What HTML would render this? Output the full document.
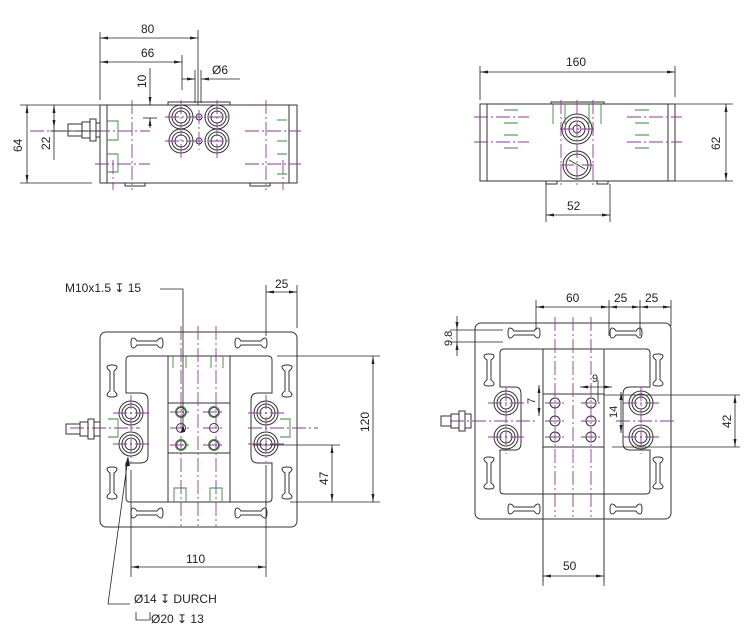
<!DOCTYPE html>
<html><head><meta charset="utf-8"><style>
html,body{margin:0;padding:0;background:#fff;}
svg{display:block;}
text{font-family:"Liberation Sans","DejaVu Sans",sans-serif;font-size:12px;fill:#222;}
.l{stroke:#333;stroke-width:1;fill:none;}
.d{stroke:#222;stroke-width:0.8;fill:none;}
.p{stroke:#8a3a9a;stroke-width:0.9;fill:none;stroke-dasharray:14 3 2 3;}
.g{stroke:#3a8a3a;stroke-width:0.9;fill:none;}
.a{fill:#222;}
</style></head><body>
<svg width="756" height="638" viewBox="0 0 756 638" xmlns="http://www.w3.org/2000/svg">
<defs>
<marker id="ar" markerWidth="8" markerHeight="6" refX="8" refY="3" orient="auto-start-reverse" markerUnits="userSpaceOnUse"><path d="M0,1.5 L8,3 L0,4.5z" fill="#222"/></marker>
<g id="slotH"><path class="l" d="M-14,-5 Q-16,-5 -16,0 Q-16,5 -14,5 Q-12,5 -10,2 L10,2 Q12,5 14,5 Q16,5 16,0 Q16,-5 14,-5 Q12,-5 10,-2 L-10,-2 Q-12,-5 -14,-5z"/></g>
<g id="slotV"><path class="l" d="M-5,-14 Q-5,-16 0,-16 Q5,-16 5,-14 Q5,-12 2,-10 L2,10 Q5,12 5,14 Q5,16 0,16 Q-5,16 -5,14 Q-5,12 -2,10 L-2,-10 Q-5,-12 -5,-14z"/></g>
<g id="big"><circle class="l" r="12"/><circle class="l" r="9"/><circle class="l" r="6"/></g>
<g id="sm"><circle class="l" r="4.5"/><circle class="g" r="5.5"/></g>
</defs>

<!-- ===== VIEW 1 (top-left) ===== -->
<rect class="l" x="100" y="105" width="197" height="78"/>
<line class="l" x1="107" y1="105" x2="107" y2="183"/>
<line class="l" x1="289" y1="105" x2="289" y2="183"/>
<rect class="l" x="168" y="102" width="62" height="3"/>
<rect class="l" x="125" y="183" width="20" height="3"/><rect class="l" x="250" y="183" width="20" height="3"/>
<g transform="translate(181,117)"><use href="#big"/></g>
<g transform="translate(217,117)"><use href="#big"/></g>
<g transform="translate(181,141)"><use href="#big"/></g>
<g transform="translate(217,141)"><use href="#big"/></g>
<circle class="l" cx="199" cy="117" r="3"/><circle class="l" cx="199" cy="141" r="3"/>
<path class="g" d="M107,121 h11 v19 h-11 M107,154 h11 v18 h-11 M277,120 h10 M277,141 h10 M277,154 h10 M277,174 h10"/>
<path class="p" d="M165,117 h66 M165,141 h66 M181,100 v60 M217,100 v60 M199,110 v40 M30,131 h120 M245,131 h56 M95,164 h55 M245,164 h56 M132,100 v90 M266,100 v90 M113,160 v30 M283,160 v30"/>
<!-- connector -->
<path class="l" d="M68,124 h14 v12 h-14z M82,122 h8 v16 h-8z M90,119 h6 v22 h-6z M96,123 h4 v14 h-4z"/>
<!-- dims -->
<path class="d" d="M100,100 V32 M198,105 V30 M182,90 V55 M195,103 V70 M201,103 V70 M20,105 H100 M20,183 H92"/>
<line class="d" x1="100" y1="38" x2="198" y2="38" marker-start="url(#ar)" marker-end="url(#ar)"/>
<line class="d" x1="100" y1="62" x2="182" y2="62" marker-start="url(#ar)" marker-end="url(#ar)"/>
<line class="d" x1="182" y1="79" x2="195" y2="79" marker-end="url(#ar)"/>
<line class="d" x1="240" y1="79" x2="201" y2="79" marker-end="url(#ar)"/>
<line class="d" x1="150" y1="68" x2="150" y2="105" marker-end="url(#ar)"/>
<line class="d" x1="150" y1="128" x2="150" y2="118" marker-end="url(#ar)"/>
<line class="d" x1="143" y1="118" x2="157" y2="118"/>
<line class="d" x1="27" y1="105" x2="27" y2="183" marker-start="url(#ar)" marker-end="url(#ar)"/>
<line class="d" x1="54" y1="105" x2="54" y2="128" marker-start="url(#ar)" marker-end="url(#ar)"/>
<line class="d" x1="54" y1="128" x2="54" y2="160"/>
<line class="d" x1="50" y1="131" x2="100" y2="131"/>
<text x="141" y="33">80</text>
<text x="141" y="57">66</text>
<text x="212" y="74">Ø6</text>
<text transform="translate(146,88) rotate(-90)">10</text>
<text transform="translate(22,152) rotate(-90)">64</text>
<text transform="translate(50,150) rotate(-90)">22</text>

<!-- ===== VIEW 2 (top-right) ===== -->
<rect class="l" x="480" y="104" width="195" height="77"/>
<line class="l" x1="487" y1="104" x2="487" y2="181"/>
<line class="l" x1="668" y1="104" x2="668" y2="181"/>
<rect class="l" x="551" y="102" width="53" height="2"/>
<rect class="l" x="546" y="181" width="11" height="3"/><rect class="l" x="597" y="181" width="11" height="3"/>
<circle class="l" cx="577" cy="129" r="15"/><circle class="l" cx="577" cy="129" r="12"/><circle class="l" cx="577" cy="129" r="8"/><circle class="l" cx="577" cy="129" r="4"/>
<circle class="l" cx="577" cy="165" r="14"/><circle class="l" cx="577" cy="165" r="11"/>
<line class="l" x1="569" y1="160" x2="585" y2="169"/>
<path class="g" d="M504,110 h14 M504,123 h14 M504,135 h14 M504,148 h14 M635,110 h14 M635,123 h14 M635,135 h14 M635,148 h14 M553,104 v20 M565,104 v20 M589,104 v20 M601,104 v20"/>
<path class="p" d="M474,117 h55 M474,142 h55 M627,117 h55 M627,142 h55 M560,165 h34 M560,129 h34 M561,100 v86 M577,100 v86 M593,100 v86"/>
<path class="d" d="M480,100 V66 M675,97 V66 M675,104 H733 M675,181 H733 M546,184 V222 M610,184 V222"/>
<line class="d" x1="480" y1="72" x2="675" y2="72" marker-start="url(#ar)" marker-end="url(#ar)"/>
<line class="d" x1="726" y1="104" x2="726" y2="181" marker-start="url(#ar)" marker-end="url(#ar)"/>
<line class="d" x1="546" y1="215" x2="610" y2="215" marker-start="url(#ar)" marker-end="url(#ar)"/>
<text x="566" y="66">160</text>
<text transform="translate(720,150) rotate(-90)">62</text>
<text x="567" y="210">52</text>

<!-- ===== VIEW 3 (bottom-left) ===== -->
<rect class="l" x="100" y="332" width="197" height="195" rx="6"/>
<path class="l" d="M130,356 H268 Q272,356 272,360 V393 H258 Q251,393 251,400 V456 Q251,463 258,463 H272 V498 Q272,502 268,502 H130 Q126,502 126,498 V463 H140 Q148,463 148,456 V400 Q148,393 140,393 H126 V360 Q126,356 130,356z"/>
<rect class="l" x="168" y="356" width="62" height="146"/>
<rect class="l" x="168" y="403" width="62" height="50"/>
<g transform="translate(131,413)"><use href="#big"/></g>
<g transform="translate(131,444)"><use href="#big"/></g>
<g transform="translate(266,413)"><use href="#big"/></g>
<g transform="translate(266,444)"><use href="#big"/></g>
<g transform="translate(181,412)"><use href="#sm"/></g><g transform="translate(214,412)"><use href="#sm"/></g>
<circle class="l" cx="181" cy="428" r="4.5"/><circle class="l" cx="214" cy="428" r="4.5"/>
<g transform="translate(181,445)"><use href="#sm"/></g><g transform="translate(214,445)"><use href="#sm"/></g>
<use href="#slotH" x="147" y="343"/><use href="#slotH" x="251" y="343"/>
<use href="#slotH" x="147" y="513"/><use href="#slotH" x="251" y="513"/>
<use href="#slotV" x="112" y="381"/><use href="#slotV" x="112" y="483"/>
<use href="#slotV" x="287" y="381"/><use href="#slotV" x="287" y="483"/>
<path class="g" d="M173,356 v12 M186,356 v12 M211,356 v12 M223,356 v12 M174,502 v-14 h12 v14 M210,502 v-14 h12 v14 M108,419 h10 v18 h-10 M280,419 h10 v18 h-10"/>
<path class="p" d="M113,413 h38 M113,444 h38 M248,413 h38 M248,444 h38 M131,395 v67 M266,395 v67 M70,428 h70 M248,428 h70 M170,412 h22 M203,412 h22 M170,428 h22 M203,428 h22 M170,445 h22 M203,445 h22 M181,326 v200 M198,326 v200 M216,326 v200"/>
<path class="l" d="M66,424 h14 v10 h-14z M80,422 h8 v14 h-8z M88,419 h6 v20 h-6z M94,422 h6 v14 h-6z"/>
<!-- dims -->
<path class="d" d="M266,336 V285 M297,328 V285 M277,356 H380 M290,502 H380 M253,445 H340 M131,470 V577 M266,465 V577"/>
<line class="d" x1="266" y1="292" x2="297" y2="292" marker-start="url(#ar)" marker-end="url(#ar)"/>
<line class="d" x1="373" y1="356" x2="373" y2="502" marker-start="url(#ar)" marker-end="url(#ar)"/>
<line class="d" x1="332" y1="445" x2="332" y2="502" marker-start="url(#ar)" marker-end="url(#ar)"/>
<line class="d" x1="131" y1="567" x2="266" y2="567" marker-start="url(#ar)" marker-end="url(#ar)"/>
<text x="275" y="288">25</text>
<text transform="translate(369,432) rotate(-90)">120</text>
<text transform="translate(328,485) rotate(-90)">47</text>
<text x="186" y="563">110</text>
<text x="65" y="292">M10x1.5 ↧ 15</text>
<path class="d" d="M160,289 H183 V428"/>
<path class="a" d="M181,432 L183,424 L185,432z"/>
<path class="d" d="M128,458 L108,604 H130"/>
<path class="a" d="M128,456 L125,466 L130,466z"/>
<text x="134" y="603">Ø14 ↧ DURCH</text>
<path class="d" d="M136,612 v8 h14 v-8"/>
<text x="151" y="623">Ø20 ↧ 13</text>

<!-- ===== VIEW 4 (bottom-right) ===== -->
<rect class="l" x="475" y="323" width="196" height="196" rx="6"/>
<path class="l" d="M504,349 H646 Q650,349 650,353 V387 H630 Q623,387 623,394 V443 Q623,450 630,450 H650 V490 Q650,494 646,494 H504 Q500,494 500,490 V450 H515 Q521,450 521,443 V394 Q521,387 515,387 H500 V353 Q500,349 504,349z"/>
<line class="l" x1="543" y1="349" x2="543" y2="582"/>
<line class="l" x1="604" y1="349" x2="604" y2="582"/>
<rect class="l" x="543" y="394" width="61" height="53"/>
<g transform="translate(506,403)"><use href="#big"/></g>
<g transform="translate(506,437)"><use href="#big"/></g>
<g transform="translate(641,403)"><use href="#big"/></g>
<g transform="translate(641,437)"><use href="#big"/></g>
<circle class="l" cx="555" cy="403" r="5"/><circle class="l" cx="591" cy="403" r="5"/>
<circle class="l" cx="555" cy="421" r="5"/><circle class="l" cx="591" cy="421" r="5"/>
<circle class="l" cx="555" cy="437" r="5"/><circle class="l" cx="591" cy="437" r="5"/>
<use href="#slotH" x="524" y="333"/><use href="#slotH" x="626" y="333"/>
<use href="#slotH" x="524" y="509"/><use href="#slotH" x="626" y="509"/>
<use href="#slotV" x="489" y="370"/><use href="#slotV" x="489" y="473"/>
<use href="#slotV" x="658" y="370"/><use href="#slotV" x="658" y="473"/>
<path class="p" d="M488,403 h37 M488,437 h37 M623,403 h37 M623,437 h37 M506,387 v67 M641,387 v67 M450,421 h85 M616,421 h60 M545,403 h20 M581,403 h20 M545,421 h20 M581,421 h20 M545,437 h20 M581,437 h20 M555,317 v200 M573,317 v200 M591,317 v200"/>
<path class="l" d="M441,416 h10 v10 h-10z M451,414 h8 v14 h-8z M459,411 h6 v20 h-6z M465,414 h6 v14 h-6z"/>
<!-- dims -->
<path class="d" d="M536,330 V300 M609,336 V300 M640,336 V300 M671,326 V300 M450,330 H503 M450,342 H503 M543,582 V586 M604,582 V586 M604,395 H740 M612,447 H740 M598,402 V380"/>
<line class="d" x1="536" y1="307" x2="609" y2="307" marker-start="url(#ar)" marker-end="url(#ar)"/>
<line class="d" x1="609" y1="307" x2="640" y2="307" marker-start="url(#ar)" marker-end="url(#ar)"/>
<line class="d" x1="640" y1="307" x2="671" y2="307" marker-start="url(#ar)" marker-end="url(#ar)"/>
<line class="d" x1="543" y1="576" x2="604" y2="576" marker-start="url(#ar)" marker-end="url(#ar)"/>
<line class="d" x1="735" y1="395" x2="735" y2="447" marker-start="url(#ar)" marker-end="url(#ar)"/>
<line class="d" x1="457" y1="316" x2="457" y2="330" marker-end="url(#ar)"/>
<line class="d" x1="457" y1="356" x2="457" y2="342" marker-end="url(#ar)"/>
<line class="d" x1="457" y1="330" x2="457" y2="342"/>
<line class="d" x1="539" y1="385" x2="539" y2="416" marker-start="url(#ar)" marker-end="url(#ar)"/>
<line class="d" x1="621" y1="392" x2="621" y2="433" marker-start="url(#ar)" marker-end="url(#ar)"/>
<line class="d" x1="580" y1="387" x2="612" y2="387" marker-start="url(#ar)" marker-end="url(#ar)"/>
<text x="566" y="302">60</text>
<text x="614" y="302">25</text>
<text x="645" y="302">25</text>
<text x="563" y="570">50</text>
<text transform="translate(731,428) rotate(-90)">42</text>
<text transform="translate(452,346) rotate(-90)" style="font-size:11px">9.8</text>
<text transform="translate(535,404) rotate(-90)" style="font-size:11px">7</text>
<text transform="translate(617,418) rotate(-90)" style="font-size:11px">14</text>
<text x="592" y="382" style="font-size:11px">9</text>
</svg>
</body></html>
